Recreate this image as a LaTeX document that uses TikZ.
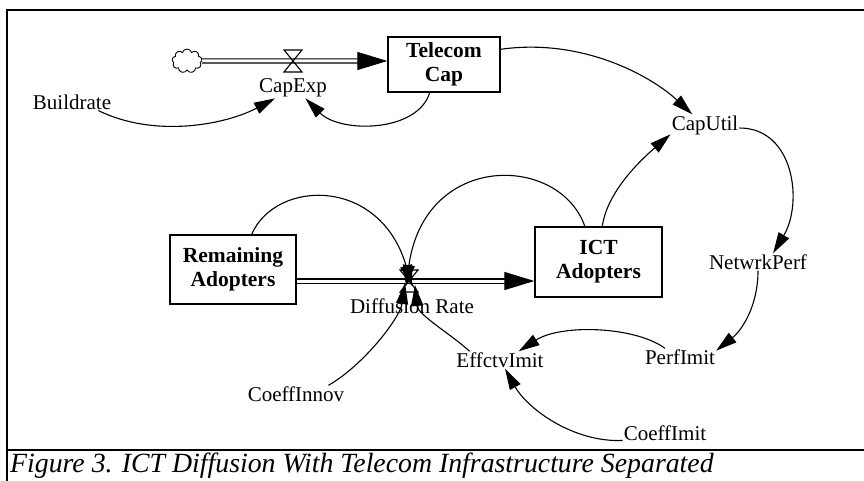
\documentclass[tikz,border=0pt]{standalone}
\usepackage{fontspec}
\setmainfont{Liberation Serif}
\usetikzlibrary{arrows.meta, shapes.symbols, calc, positioning}

\tikzset{
  stock/.style={draw, line width=1.3pt, align=center, inner sep=2pt,
    font=\fontsize{21.5}{24}\selectfont\bfseries},
  aux/.style={inner sep=1pt, font=\fontsize{21}{24}\selectfont},
  infl/.style={line width=1.1pt, -{Triangle[length=21pt,width=12pt]}},
  pipe/.style={double, double distance=3pt, line width=1.2pt,
    -{Triangle[length=30pt,width=18pt]}},
  valve/.pic={\draw[line width=1.1pt] (-9,-11) -- (9,-11) -- (-9,11) -- (9,11) -- cycle;}
}

\begin{document}
\begin{tikzpicture}[x=1pt, y=-1pt]
\useasboundingbox (0,0) rectangle (864,481);

% Rahmen
\draw[line width=2.5pt] (7,481) -- (7,10) -- (864,10);
\draw[line width=2.5pt] (7,450) -- (864,450);
\node[anchor=base west, inner sep=0pt, font=\fontsize{27.8}{30}\selectfont\itshape] (caption) at (10,472)
  {Figure 3. ICT Diffusion With Telecom Infrastructure Separated};

% Bestaende
\node[stock, minimum width=112pt, minimum height=55pt] (telecom) at (444,64.5) {Telecom\\Cap};
\node[stock, minimum width=126pt, minimum height=69pt] (remain) at (233,269.5) {Remaining\\Adopters};
\node[stock, minimum width=127pt, minimum height=70pt] (ict) at (598.5,262) {ICT\\Adopters};

% Quelle und Ventile
\node[cloud, draw, cloud puffs=9, line width=0.9pt, minimum width=30pt, minimum height=24pt, inner sep=0pt] (src) at (187,61) {};
\coordinate (vcap) at (293,61);
\coordinate (vdiff) at (409,281);

% Pfeilspitzen am Ventil
\coordinate (dr1) at (412,286);
\coordinate (dr2) at (406,286);
\coordinate (dr3) at (405,283);
\coordinate (dr4) at (415,285);

% Hilfsgroessen
\node[aux] (capexp) at (293,88) {CapExp};
\node[aux] (buildrate) at (72,102) {Buildrate};
\node[aux] (caputil) at (705,125) {CapUtil};
\node[aux] (netwrk) at (758,262) {NetwrkPerf};
\node[aux] (perfimit) at (680,357) {PerfImit};
\node[aux] (effctv) at (500,360) {EffctvImit};
\node[aux] (coeffimit) at (665,433) {CoeffImit};
\node[aux] (coeffinnov) at (296,394) {CoeffInnov};
\node[aux] (diffrate) at (412,306) {Diffusion Rate};

% Fluesse
\draw[pipe] (src.east) -- (src -| telecom.west);
\draw[pipe] (remain.east |- vdiff) -- (ict.west |- vdiff);
\pic at (vcap) {valve};
\pic at (vdiff) {valve};

% Wirkungen oben
\draw[infl] (buildrate.-18) .. controls +(56,27.5) and +(-50,26.5) .. (capexp.-150);
\draw[infl] (telecom.-117) .. controls +(-12,40) and +(35,35) .. (capexp.-40);
\draw[infl] (telecom.15) .. controls +(80,-11.5) and +(-42.5,-39.5) .. (caputil.140);
\draw[infl] (ict.84) .. controls +(5,-35) and +(-29.5,25.5) .. (caputil.195);

% Wirkungen rechts
\draw[infl] (caputil.-5) .. controls +(55,0) and +(30,-50) .. (netwrk.30);
\draw[infl] (netwrk.south) .. controls +(0,35) and +(26,-20.7) .. (perfimit.10);
\draw[infl] (perfimit.150) .. controls +(-30,-22) and +(42.6,-27.5) .. (effctv.25);
\draw[infl] (coeffimit.190) .. controls +(-50,2) and +(22,39.5) .. (effctv.-60);

% Wirkungen auf Diffusion Rate
\draw[infl] (remain.62) .. controls +(23.7,-55) and +(-32,-110) .. (dr1);
\draw[infl] (ict.111) .. controls +(-25,-72) and +(19,-135) .. (dr2);
\draw[infl] (coeffinnov.15) .. controls +(35,-20) and +(-5,35) .. (dr3);
\draw[infl] (effctv.164) .. controls +(-20,-18) and +(3,30) .. (dr4);

\end{tikzpicture}
\end{document}
